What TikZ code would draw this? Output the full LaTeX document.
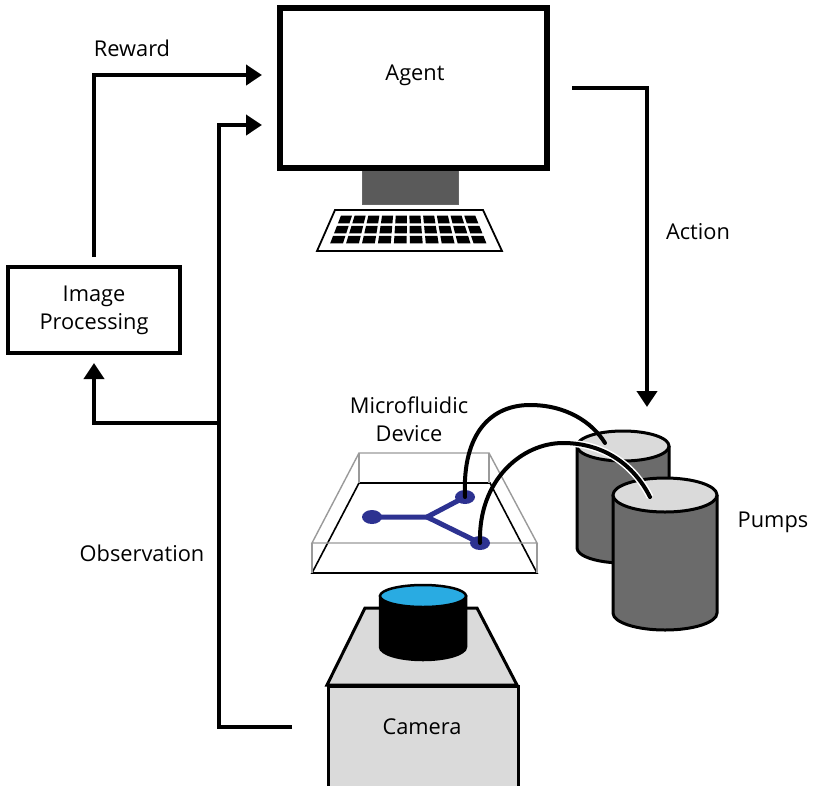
\documentclass[tikz,border=0pt]{standalone}
\usepackage{fontspec}
\setmainfont{Open Sans}
\usetikzlibrary{arrows.meta,shapes.geometric}
\definecolor{standgray}{HTML}{5A5A5A}
\definecolor{pumpside}{HTML}{6B6B6B}
\definecolor{lightfill}{HTML}{DADADA}
\definecolor{lensblue}{HTML}{29ABE2}
\definecolor{channel}{RGB}{45,50,145}
\definecolor{glass}{HTML}{9A9A9A}
\begin{document}
\begin{tikzpicture}[x=1pt,y=-1pt,
  lbl/.style={font=\fontsize{21.8}{28}\selectfont, inner sep=0pt, align=center},
  flow/.style={line width=4pt, -{Triangle[length=16pt,width=20pt]}},
  tube/.style={line width=4pt, line cap=round},
  thick3/.style={line width=3pt, line join=miter}]
\clip (0,0) rectangle (816,785);
\fill[white] (0,0) rectangle (816,785);

% ---- computer: monitor, stand, keyboard
\fill[standgray, draw=black!60, line width=0.6pt] (362,170) rectangle (458,204);
\node[draw, line width=6pt, fill=white, minimum width=267, minimum height=160, inner sep=0pt] (agent) at (413.5,88) {};
\node[lbl] (agenttxt) at (415,75) {Agent};
\draw[line width=1.8pt, fill=white] (335,210) -- (483,210) -- (502,251) -- (317,251) -- cycle;
\foreach \r in {0,1,2}{
  \foreach \c in {0,...,9}{
    \pgfmathsetmacro\ua{0.055+\c*0.0895}
    \pgfmathsetmacro\ub{\ua+0.072}
    \pgfmathsetmacro\va{0.14+\r*0.245}
    \pgfmathsetmacro\vb{\va+0.185}
    \pgfmathsetmacro\la{335-18*\va}\pgfmathsetmacro\ra{483+19*\va}
    \pgfmathsetmacro\lb{335-18*\vb}\pgfmathsetmacro\rb{483+19*\vb}
    \pgfmathsetmacro\xa{\la+\ua*(\ra-\la)}\pgfmathsetmacro\xb{\la+\ub*(\ra-\la)}
    \pgfmathsetmacro\xc{\lb+\ub*(\rb-\lb)}\pgfmathsetmacro\xd{\lb+\ua*(\rb-\lb)}
    \pgfmathsetmacro\ya{210+41*\va}\pgfmathsetmacro\yb{210+41*\vb}
    \fill (\xa,\ya) -- (\xb,\ya) -- (\xc,\yb) -- (\xd,\yb) -- cycle;
  }
}

% ---- image processing
\node[draw, line width=3.5pt, minimum width=172, minimum height=86, inner sep=0pt, lbl] (imgproc) at (94,310) {Image\\Processing};

% ---- microfluidic device
\node[lbl] (devtxt) at (409,419) {Microfluidic\\Device};
% base plate
\draw[line width=1.6pt] (359,483) -- (490,483) -- (537,573) -- (312,573) -- cycle;
% glass lid outline
\draw[glass, line width=1.4pt] (359,453) -- (489,453) -- (537,543) -- (312,543) -- cycle;
\draw[glass, line width=1.4pt] (359,453) -- (359,483) (489,453) -- (489,483)
  (312,543) -- (312,573) (537,543) -- (537,573);
% channel
\draw[channel, line width=5pt, line cap=round, line join=round] (372,517) -- (427,517) -- (465,497);
\draw[channel, line width=5pt, line cap=round] (427,517) -- (480,543);
\fill[channel] (372,517) ellipse [x radius=10, y radius=7];
\fill[channel] (465,497) ellipse [x radius=10, y radius=7];
\fill[channel] (480,543) ellipse [x radius=10, y radius=7];

% ---- pumps
\path[fill=pumpside, draw=black, thick3] (577,446) -- (577,548)
  arc[start angle=180, end angle=0, x radius=46, y radius=15] -- (669,446);
\node[draw, line width=3pt, fill=lightfill, shape=ellipse, minimum width=92, minimum height=30, inner sep=0pt] (pumpa) at (623,446) {};
\path[fill=pumpside, draw=black, thick3] (613,495) -- (613,613)
  arc[start angle=180, end angle=0, x radius=52, y radius=17] -- (717,495);
\node[draw, line width=3pt, fill=lightfill, shape=ellipse, minimum width=104, minimum height=34, inner sep=0pt] (pumpb) at (665,495) {};
\node[lbl] (pumptxt) at (773,522) {Pumps};

% tubing from device outlets into the pumps
\draw[tube] (465,497) .. controls (462,432) and (492,405) .. (530,405)
  .. controls (566,405) and (592,422) .. (605,443);
\draw[white, line width=7pt] (540,446) .. controls (550,444) and (556,443) .. (563,443)
  .. controls (604,443) and (634,465) .. (650,497);
\draw[tube] (480,543) .. controls (478,480) and (522,443) .. (563,443)
  .. controls (604,443) and (634,465) .. (650,497);

% ---- camera
\draw[fill=lightfill, thick3] (365,608) -- (477,608) -- (517,685) -- (327,685) -- cycle;
\node[draw, fill=lightfill, line width=3pt, minimum width=190, minimum height=130, inner sep=0pt, anchor=north west] (camera) at (327,685) {};
\node[lbl] (camtxt) at (422,727) {Camera};
\path[fill=black, draw=black, line width=2.5pt] (380,596) -- (380,647)
  arc[start angle=180, end angle=0, x radius=43, y radius=13] -- (466,596) -- cycle;
\node[draw, line width=2.5pt, fill=lensblue, shape=ellipse, minimum width=86, minimum height=22, inner sep=0pt] (lens) at (423,596) {};

% ---- signal connectors
\coordinate (rwin) at (262,75);
\coordinate (obsin) at (262,125);
\coordinate (actout) at (572,88);
\coordinate (actin) at (647,407);
\coordinate (obsstart) at (292,727);
\coordinate (obsbend) at (219,727);
\coordinate (obsbranch) at (219,423);
\coordinate (ipin) at (94,363);
\coordinate (ipout) at (94,257);

\draw[flow] (ipout) |- (rwin);
\draw[flow] (actout) -| (actin);
\draw[flow] (obsstart) -- (obsbend) |- (obsin);
\draw[flow] (obsbranch) -| (ipin);

\node[lbl] (rwtxt) at (132,48) {Reward};
\node[lbl] (acttxt) at (698,232) {Action};
\node[lbl] (obstxt) at (142,553) {Observation};
\end{tikzpicture}
\end{document}
